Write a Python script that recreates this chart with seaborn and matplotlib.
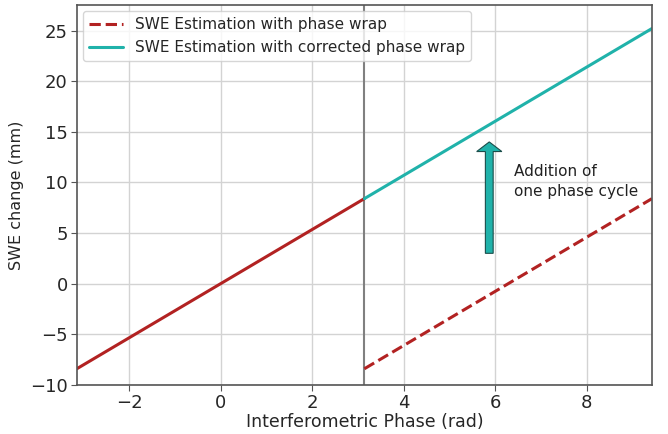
import numpy as np
import matplotlib
matplotlib.use("Agg")
import matplotlib.pyplot as plt
import seaborn as sns

# ── Data ──────────────────────────────────────────────────────
phase_left      = [-3.1416, 3.1416]
swe_left        = [-8.4, 8.4]
phase_right     = [3.1416, 9.4248]
swe_wrapped     = [-8.4, 8.4]
swe_corrected   = [8.4, 25.2]
wrap_phase      = 3.1416
arrow_x         = 5.87
arrow_from      = 3.0
arrow_to        = 14.0

RED  = "#b22222"
CYAN = "#20b2aa"

sns.set_style("white")
plt.rcParams['font.family'] = ['DejaVu Sans']

fig, ax = plt.subplots(figsize=(6.68, 4.34), dpi=100)
fig.subplots_adjust(left=0.115, right=0.976, bottom=0.113, top=0.988)

sns.lineplot(x=phase_left, y=swe_left, color=RED, linewidth=2.2, ax=ax)
sns.lineplot(x=phase_right, y=swe_wrapped, color=RED, linewidth=2.2,
             linestyle="--", label="SWE Estimation with phase wrap", ax=ax)
sns.lineplot(x=phase_right, y=swe_corrected, color=CYAN, linewidth=2.2,
             label="SWE Estimation with corrected phase wrap", ax=ax)

ax.axvline(wrap_phase, color="gray", linewidth=1.5, zorder=1)

ax.arrow(arrow_x, arrow_from, 0, arrow_to - arrow_from,
         width=0.17, head_width=0.55, head_length=0.95,
         length_includes_head=True, fc=CYAN, ec="#1a4d4a", linewidth=0.8,
         zorder=3)
ax.text(6.4, 10.1, "Addition of\none phase cycle", fontsize=11,
        va="center", ha="left", linespacing=1.35, color="#222222")

ax.set_xlim(-3.1416, 9.4248)
ax.set_ylim(-10, 27.5)
ax.set_xticks([-2, 0, 2, 4, 6, 8])
ax.set_yticks([-10, -5, 0, 5, 10, 15, 20, 25])
ax.grid(True, color="#d3d3d3", linewidth=1.0)
ax.set_axisbelow(True)
for s in ax.spines.values():
    s.set_color("#555555")
    s.set_linewidth(1.2)
ax.tick_params(axis="both", labelsize=13, length=4, color="#555555",
               direction="out", bottom=True, left=True, pad=2.5)

ax.set_xlabel("Interferometric Phase (rad)", fontsize=12.5, labelpad=1)
ax.set_ylabel("SWE change (mm)", fontsize=11.5)
ax.legend(loc="upper left", fontsize=11, handlelength=2.2,
          borderaxespad=0.4, framealpha=0.8)

plt.savefig("out.png", dpi=100)
plt.close()
